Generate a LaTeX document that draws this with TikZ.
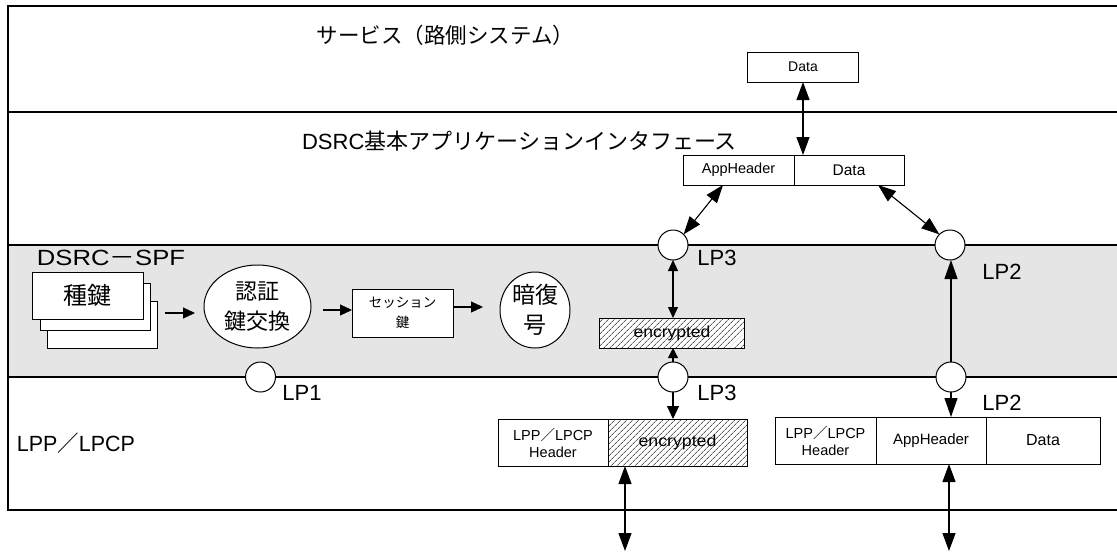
\documentclass[tikz,border=0pt]{standalone}
\usepackage{fontspec}
\setmainfont{Liberation Sans}
\newfontfamily\cjk{Noto Sans CJK JP}
\usetikzlibrary{arrows.meta,patterns.meta,shapes.geometric,calc}
\newcommand{\fsl}[2]{\fontsize{#1}{#2}\selectfont}
\newcommand{\fitw}[2]{\resizebox{#1}{\height}{#2}}
\begin{document}
\begin{tikzpicture}[x=1pt,y=-1pt,
  every node/.style={inner sep=0pt,outer sep=0pt},
  boxst/.style={draw,line width=1pt,fill=white,align=center},
  hatchst/.style={draw,line width=1pt,preaction={fill=white},
    pattern={Lines[angle=45,distance=4pt,line width=0.6pt]}},
  port/.style={circle,draw,line width=1pt,fill=white,minimum size=30pt},
  ell/.style={ellipse,draw,line width=1pt,fill=white,align=center},
  lbl/.style={font=\fsl{22}{22}},
  arrKey/.style={-{Triangle[length=12pt,width=11pt]},line width=1.1pt},
  arrSm/.style={-{Triangle[length=10pt,width=10pt]},line width=1.1pt},
  arrSmDbl/.style={{Triangle[length=11pt,width=10pt]}-{Triangle[length=11pt,width=10pt]},line width=1.1pt},
  arrMid/.style={-{Triangle[length=13pt,width=12pt]},line width=1.1pt},
  arrBig/.style={-{Triangle[length=19pt,width=13pt]},line width=1.1pt},
  arrBigDbl/.style={{Triangle[length=18pt,width=13pt]}-{Triangle[length=18pt,width=13pt]},line width=1.1pt}]
\useasboundingbox (0,0) rectangle (1117,552);
% layers
\fill[gray!20] (8,245) rectangle (1117,377);
\draw[line width=1.3pt] (1117,6) -- (8,6) -- (8,510) -- (1117,510);
\draw[line width=1.3pt] (8,112) -- (1117,112);
\draw[line width=1.3pt] (8,245) -- (1117,245);
\draw[line width=1.3pt] (8,377) -- (1117,377);
% titles
\node[font=\cjk\fsl{21.5}{22}] (svc) at (445.5,35) {サービス（路側システム）};
\node[font=\fsl{22}{22}] (api) at (519.5,141) {DSRC{\cjk 基本アプリケーションインタフェース}};
\node[font=\fsl{22}{22}] (spf) at (111,258) {\fitw{148pt}{DSRC{\cjk －}SPF}};
\node[font=\fsl{22}{22}] (lpp) at (76,443) {\fitw{118pt}{LPP{\cjk ／}LPCP}};
% key stack
\node[boxst,minimum width=110pt,minimum height=47pt] (k3) at (102,324.5) {};
\node[boxst,minimum width=110pt,minimum height=47pt] (k2) at (95,306.5) {};
\node[boxst,minimum width=111pt,minimum height=47pt,font=\cjk\fsl{24}{24}] (k1) at (87.5,295.5) {種鍵};
\node[ell,minimum width=107pt,minimum height=83pt,font=\cjk\fsl{22}{30}] (auth) at (257.5,306.5) {認証\\鍵交換};
\node[boxst,minimum width=101pt,minimum height=48pt,font=\cjk\fsl{13.5}{20}] (ses) at (402.5,313) {セッション\\鍵};
\node[ell,minimum width=70pt,minimum height=76pt,font=\cjk\fsl{23}{30}] (dec) at (535,310) {暗復\\号};
% ports
\node[port] (lp1) at (260.5,377) {};
\node[port] (lp3a) at (673,245) {};
\node[port] (lp3b) at (673,377) {};
\node[port] (lp2a) at (950,245) {};
\node[port] (lp2b) at (951,377) {};
\node[lbl] (t1) at (302,393) {LP1};
\node[lbl] (t3a) at (717,258) {LP3};
\node[lbl] (t3b) at (717,393) {LP3};
\node[lbl] (t2a) at (1002,272) {LP2};
\node[lbl] (t2b) at (1002,403) {LP2};
% data boxes
\node[boxst,minimum width=111pt,minimum height=30pt,font=\fsl{14}{14}] (dataTop) at (803,67) {Data};
\node[boxst,minimum width=111pt,minimum height=30pt,font=\fsl{14.5}{14.5}] (appH) at (738.5,170) {AppHeader};
\node[boxst,minimum width=110pt,minimum height=30pt,font=\fsl{15.5}{15.5}] (appD) at (849,170) {Data};
\node[hatchst,minimum width=145pt,minimum height=30pt,font=\fsl{16}{16}] (enc1) at (672,333) {\fitw{77pt}{encrypted}};
\node[boxst,minimum width=110pt,minimum height=47pt,font=\fsl{14.5}{17}] (lppH) at (553,442.5) {LPP{\cjk ／}LPCP\\Header};
\node[hatchst,minimum width=139pt,minimum height=47pt,font=\fsl{16}{16}] (enc2) at (677.5,442.5) {\fitw{78pt}{encrypted}};
\node[boxst,minimum width=101pt,minimum height=47pt,font=\fsl{14.5}{17}] (rH) at (825.5,440.5) {LPP{\cjk ／}LPCP\\Header};
\node[boxst,minimum width=110pt,minimum height=47pt,font=\fsl{15}{15}] (rA) at (931,440.5) {AppHeader};
\node[boxst,minimum width=114pt,minimum height=47pt,font=\fsl{16}{16}] (rD) at (1043,440.5) {Data};
% connectors
\coordinate (a1s) at (165,313);
\draw[arrKey,shorten >=9pt] (a1s) -- (auth.west |- a1s);
\draw[arrKey] ($(auth.east |- ses.west)+(12,-3)$) -- ($(ses.west)+(0,-3)$);
\draw[arrKey,shorten >=17pt] ($(ses.east)+(0,-6)$) -- ($(ses.east -| dec.west)+(0,-6)$);
\draw[arrBigDbl] (dataTop.south) -- (dataTop.south |- appD.north);
\draw[arrBigDbl] ($(appH.south)+(-15.5,0)$) -- (lp3a.north east);
\draw[arrBigDbl] ($(appD.south)+(29,0)$) -- (lp2a.north west);
\draw[arrSmDbl] (lp3a.south) -- (lp3a.south |- enc1.north);
\draw[arrSm] (lp3b.north) -- (lp3b.north |- enc1.south);
\draw[arrMid] (lp3b.south) -- (lp3b.south |- enc2.north);
\coordinate (out1) at (625,551);
\draw[arrBigDbl] (enc2.south -| out1) -- (out1);
\draw[arrBig] (lp2b.north) -- (lp2b.north |- lp2a.south);
\draw[arrBig] (lp2b.south) -- (lp2b.south |- rA.north);
\coordinate (out2) at (949,551);
\draw[arrBigDbl] (rA.south -| out2) -- (out2);
\end{tikzpicture}
\end{document}
